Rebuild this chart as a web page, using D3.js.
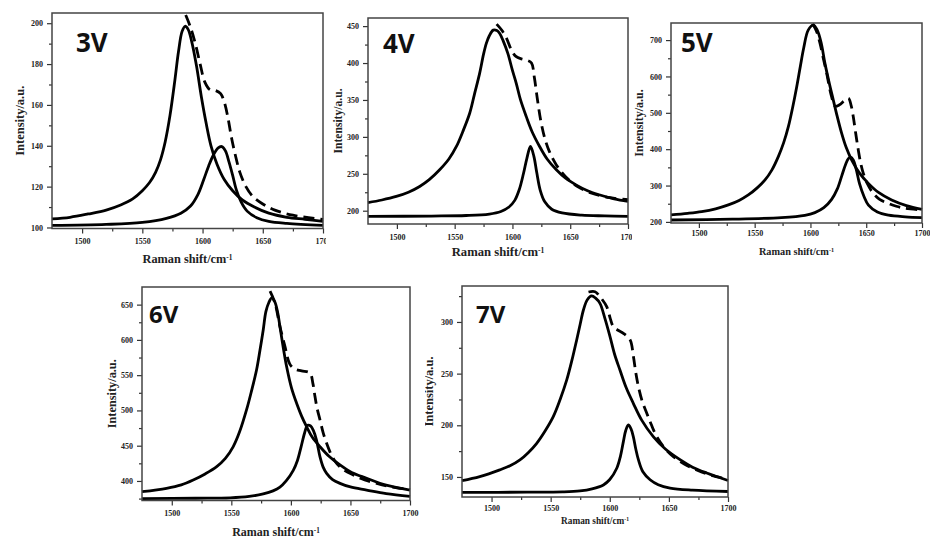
<!DOCTYPE html>
<html>
<head>
<meta charset="utf-8">
<script src="https://cdn.jsdelivr.net/npm/d3@7"></script>
<style>
  body { margin: 0; background: #fff; }
  svg { display: block; }
</style>
</head>
<body>
<div id="wrapper"></div>
<script>
// values: [Raman shift, intensity]
const shiftTicks = [1500, 1550, 1600, 1650, 1700]
const shiftMinor = [1525, 1575, 1625, 1675]
const shiftDomain = [1475, 1700]

// 3V
const main3V = [[1475,104.2],[1490,105],[1505,106.6],[1520,108.5],[1532,111],[1542,114],[1550,118],[1556,122],[1561,127],[1565,133],[1569,142],[1573,155],[1577,172],[1580,186],[1583,196],[1585.5,198.5],[1588,197],[1591,191],[1595,179],[1599,164],[1603,151],[1607,140],[1612,131],[1618,123.5],[1625,118],[1633,113.5],[1643,110],[1655,107],[1670,105],[1685,104],[1700,103]]
const side3V = [[1475,101],[1520,101.5],[1550,102.5],[1570,104.5],[1582,107],[1590,110.5],[1596,116],[1601,123.5],[1605,130],[1609,135.5],[1613,139],[1616,139.6],[1619,137.5],[1622,132],[1625,125.5],[1628,118.5],[1632,112.5],[1637,108],[1645,104.8],[1655,103],[1670,102],[1700,101]]
const sum3V = [[1586,204],[1590,198],[1594,190],[1598,180],[1602,171],[1606,167.5],[1611,167],[1615,165.5],[1618,161.5],[1621,154],[1624,144],[1627,136],[1631,127],[1636,120],[1642,115],[1650,111.5],[1660,108.5],[1675,106],[1700,103.9]]
const yTicks3V = [100, 120, 140, 160, 180, 200]
const yMinor3V = [110, 130, 150, 170, 190]
const yDomain3V = [99.5, 205]

// 4V
const main4V = [[1475,211],[1487,214.5],[1499.5,219.3],[1510,225],[1519.7,232.8],[1528,242],[1537,255.4],[1545,270],[1551.5,287],[1557,307],[1563,332],[1567,357],[1571.6,386],[1575,412],[1577.4,426.6],[1580,437],[1583.4,444.6],[1586.5,444],[1589,440],[1592,430],[1596,413],[1600,390],[1603.3,372.5],[1607,350],[1612,327.4],[1617,307],[1623.5,287],[1630,270],[1638,255.4],[1646,244],[1655,235],[1665,227],[1675,221.6],[1688,216],[1700,212.6]]
const side4V = [[1475,192.3],[1530,192.8],[1560,193.5],[1580,195.5],[1590,199],[1597,205],[1602,214],[1606,229],[1609.5,250],[1612.5,271],[1615.6,287],[1618.5,274],[1621,252],[1624,228],[1628,212],[1634,202],[1643,197],[1660,194],[1680,193],[1700,192.3]]
const sum4V = [[1586.3,452.7],[1591,444],[1595,433],[1599,418],[1603,409],[1608,405.5],[1613,403.5],[1616.5,400],[1619,380],[1621.5,352],[1624.5,322],[1628,298],[1632,280],[1638,262],[1646,246],[1656,233],[1668,224],[1683,218],[1700,214.9]]
const yTicks4V = [200, 250, 300, 350, 400, 450]
const yMinor4V = [225, 275, 325, 375, 425]
const yDomain4V = [182, 461]

// 5V
const main5V = [[1475,219.2],[1490,223.5],[1502.5,228.3],[1515,236],[1526.4,246.7],[1536,259],[1544.3,274.2],[1552,293],[1559.3,315.4],[1565.5,343],[1571.2,379.4],[1576,418],[1580.2,461.8],[1584,514],[1587.7,571.7],[1591,629],[1594,679],[1598,727.5],[1602.6,741],[1606,728],[1609.5,694],[1613,636],[1617,580],[1620.5,535],[1624,490],[1628,443.4],[1632,405],[1637,370],[1644,334],[1651.9,306],[1661,281],[1672.8,260.4],[1686,245],[1700,234.8]]
const side5V = [[1475,205.3],[1530,207.5],[1574,211.8],[1595,218],[1604,225.5],[1612,239],[1619,262],[1624,290],[1628,326],[1631.5,358],[1634,374],[1636,378],[1638.5,370],[1641,345],[1644,305],[1648,270],[1652,246],[1660,227],[1670,218.4],[1685,214],[1700,212]]
const sum5V = [[1602,745],[1605.5,724],[1608.6,690.7],[1611.5,650],[1614.6,608.3],[1617,570],[1619,544.2],[1622,518],[1626,522],[1630,532],[1634,540],[1636.5,520],[1638.4,489.3],[1640.5,445],[1642.9,397.7],[1645,362],[1647.4,333.6],[1651,305],[1656.3,278.6],[1662,262],[1669.8,251],[1677,243],[1684.8,237.3],[1700,232.7]]
const yTicks5V = [200, 300, 400, 500, 600, 700]
const yMinor5V = [250, 350, 450, 550, 650]
const yDomain5V = [197, 747]

// 6V
const main6V = [[1475,384.8],[1495.6,389.6],[1508,394.5],[1518,401.4],[1528,410],[1537.7,420.3],[1545,432],[1551.6,448.7],[1557,470],[1562.8,501],[1567,528],[1571.2,557.7],[1574,585],[1576.8,614.5],[1579,640],[1581.5,653],[1584,659.5],[1586.5,654],[1589,638],[1590.8,619],[1593.5,590],[1596.4,562.3],[1600.5,532],[1604.8,510.2],[1609,492],[1613.2,477],[1618,462],[1624.4,448.7],[1632,435],[1641.2,422.7],[1651,412],[1663.6,403.8],[1680,394],[1700,387]]
const side6V = [[1475,375],[1520,375.5],[1549,376],[1565,378],[1576.8,381.7],[1585,386],[1590.8,391.2],[1596,400],[1602,415],[1605.5,429],[1608.5,448],[1611.5,468],[1614,479],[1616.5,478],[1619,471],[1621.5,458],[1624.4,434.4],[1627,420],[1630,410.8],[1635,402],[1641.2,396.6],[1650,391.5],[1663.6,387.1],[1680,382],[1700,378]]
const sum6V = [[1582.5,669],[1586.6,652.3],[1590.8,619],[1595,590.8],[1599,566],[1603,559],[1609,556],[1616,553],[1618.5,538],[1620.2,520],[1622,503],[1624.4,486.8],[1627,469],[1630,453.5],[1634,437],[1638.4,425],[1645,415],[1652.4,408.5],[1662,401.5],[1672,396.6],[1685,391.5],[1700,388]]
const yTicks6V = [400, 450, 500, 550, 600, 650]
const yMinor6V = [375, 425, 475, 525, 575, 625]
const yDomain6V = [372.3, 675]

// 7V
const main7V = [[1475,146.4],[1490,150.3],[1507,156.8],[1516,161],[1524,166.5],[1531,173.5],[1538.2,182.6],[1545,194],[1552.2,208.4],[1558,225],[1563.6,243.9],[1568,263],[1572,282.6],[1575,298],[1577.7,311.6],[1581,321.5],[1584.7,325.2],[1588,323],[1591.7,318],[1596,303],[1600.2,285.8],[1604,269],[1608.6,253.5],[1614,236],[1619.9,221.3],[1627,205],[1636.8,189],[1647,177],[1659.4,166.7],[1670,159.5],[1682,153.8],[1700,146.6]]
const side7V = [[1475,135],[1530,135.3],[1560,135.6],[1574.8,136.5],[1585,138.5],[1594.6,142.3],[1600,147.5],[1605.9,158.4],[1609,170],[1611.5,184.2],[1613.5,195],[1615.7,200.3],[1617.8,197],[1619.9,189],[1622,177],[1624.2,166.7],[1628,155],[1634.1,147.3],[1641,142.5],[1651,139.2],[1670,137.2],[1700,135.9]]
const sum7V = [[1582,329],[1587.5,329.3],[1592,324],[1597.4,314.8],[1600.5,303],[1603,295.4],[1607,292],[1611.5,289],[1617.2,282.6],[1620,266.5],[1622,251],[1624.2,237.5],[1627.5,223],[1631.3,211.7],[1635,201],[1639.7,189],[1646,178.5],[1653.8,169.7],[1663,162.5],[1673.5,156.8],[1686,151.5],[1700,147.8]]
const yTicks7V = [150, 200, 250, 300]
const yMinor7V = [175, 225, 275, 325]
const yDomain7V = [130.6, 334.8]

const xTitle = "Raman shift/cm"
const yTitle = "Intensity/a.u."

// layout of each sub-picture in the page
const panels = [
  {name: "3V", main: main3V, side: side3V, sum: sum3V, yTicks: yTicks3V, yMinor: yMinor3V, yDomain: yDomain3V,
   clip: [0, 0, 326, 270], left: 52, right: 323, top: 13, bottom: 228.5,
   label: [76, 52, 26], xPad: 5, xTitleY: 263, xTitleSize: 12.3, yTitleX: 24, yTitleSize: 12.5},
  {name: "4V", main: main4V, side: side4V, sum: sum4V, yTicks: yTicks4V, yMinor: yMinor4V, yDomain: yDomain4V,
   clip: [326, 0, 306, 270], left: 368, right: 628, top: 18, bottom: 224,
   label: [383, 53, 26], xPad: 5, xTitleY: 256, xTitleSize: 12.7, yTitleX: 342, yTitleSize: 11.6},
  {name: "5V", main: main5V, side: side5V, sum: sum5V, yTicks: yTicks5V, yMinor: yMinor5V, yDomain: yDomain5V,
   clip: [632, 0, 298, 270], left: 671, right: 922, top: 23, bottom: 223,
   label: [681, 52, 26], xPad: 2, xTitleY: 255, xTitleSize: 10.3, yTitleX: 643, yTitleSize: 12},
  {name: "6V", main: main6V, side: side6V, sum: sum6V, yTicks: yTicks6V, yMinor: yMinor6V, yDomain: yDomain6V,
   clip: [95, 270, 330, 269], left: 142, right: 410, top: 287, bottom: 500.5,
   label: [149, 323, 24], xPad: 5, xTitleY: 536, xTitleSize: 12, yTitleX: 116, yTitleSize: 12.3},
  {name: "7V", main: main7V, side: side7V, sum: sum7V, yTicks: yTicks7V, yMinor: yMinor7V, yDomain: yDomain7V,
   clip: [425, 270, 320, 269], left: 462, right: 728, top: 286, bottom: 497,
   label: [476, 323, 24], xPad: 3, xTitleY: 524, xTitleSize: 9.3, yTitleX: 433, yTitleSize: 12.5},
]

const width = 930
const height = 539
const serif = "'Liberation Serif', 'Times New Roman', serif"

const wrapper = d3.select("#wrapper")
  .append("svg")
  .attr("width", width)
  .attr("height", height)

wrapper.append("rect")
  .attr("width", width)
  .attr("height", height)
  .attr("fill", "#fff")

function drawPanel(p) {
  // each sub-picture is cropped like a pasted image
  const [cx, cy, cw, ch] = p.clip
  const bounds = wrapper.append("svg")
    .attr("x", cx).attr("y", cy)
    .attr("width", cw).attr("height", ch)
    .attr("viewBox", `${cx} ${cy} ${cw} ${ch}`)
    .style("overflow", "hidden")

  const xScale = d3.scaleLinear()
    .domain(shiftDomain)
    .range([p.left, p.right])

  const yScale = d3.scaleLinear()
    .domain(p.yDomain)
    .range([p.bottom, p.top])

  // minor ticks
  bounds.append("g")
    .attr("transform", `translate(0,${p.bottom})`)
    .call(d3.axisBottom(xScale).tickValues(shiftMinor).tickSize(3).tickFormat(""))
    .call(g => g.select(".domain").remove())
  bounds.append("g")
    .attr("transform", `translate(${p.left},0)`)
    .call(d3.axisLeft(yScale).tickValues(p.yMinor).tickSize(3).tickFormat(""))
    .call(g => g.select(".domain").remove())

  const xAxis = bounds.append("g")
    .attr("transform", `translate(0,${p.bottom})`)
    .call(d3.axisBottom(xScale).tickValues(shiftTicks).tickSize(5).tickPadding(p.xPad).tickFormat(d3.format("d")))
  xAxis.select(".domain").remove()

  const yAxis = bounds.append("g")
    .attr("transform", `translate(${p.left},0)`)
    .call(d3.axisLeft(yScale).tickValues(p.yTicks).tickSize(5).tickPadding(4).tickFormat(d3.format("d")))
  yAxis.select(".domain").remove()

  bounds.selectAll(".tick line").attr("stroke", "#333").attr("stroke-width", 1.2)
  bounds.selectAll(".tick text")
    .attr("fill", "#222")
    .style("font-family", serif)
    .style("font-weight", "bold")
    .style("font-size", "8px")

  const lineGenerator = d3.line()
    .x(d => xScale(d[0]))
    .y(d => yScale(d[1]))
    .curve(d3.curveCatmullRom.alpha(0.5))

  const curves = bounds.append("g")
    .attr("fill", "none")
    .attr("stroke", "#000")
    .attr("stroke-width", 2.8)
    .attr("stroke-linejoin", "round")

  curves.append("path").attr("d", lineGenerator(p.side))
  curves.append("path").attr("d", lineGenerator(p.main))
  curves.append("path")
    .attr("d", lineGenerator(p.sum))
    .attr("stroke-dasharray", "11,6")

  // frame
  bounds.append("rect")
    .attr("x", p.left)
    .attr("y", p.top)
    .attr("width", p.right - p.left)
    .attr("height", p.bottom - p.top)
    .attr("fill", "none")
    .attr("stroke", "#444")
    .attr("stroke-width", 1.5)

  bounds.append("text")
    .attr("x", p.label[0])
    .attr("y", p.label[1])
    .style("font-family", "'Open Sans', 'Noto Sans', sans-serif")
    .style("font-weight", "bold")
    .style("font-size", p.label[2] + "px")
    .attr("fill", "#111")
    .text(p.name)

  const xLabel = bounds.append("text")
    .attr("x", (p.left + p.right) / 2)
    .attr("y", p.xTitleY)
    .attr("text-anchor", "middle")
    .attr("fill", "#222")
    .style("font-family", serif)
    .style("font-weight", "bold")
    .style("font-size", p.xTitleSize + "px")
  xLabel.append("tspan").text(xTitle)
  xLabel.append("tspan")
    .attr("dy", "-0.45em")
    .style("font-size", "0.6em")
    .text("-1")

  bounds.append("text")
    .attr("transform", `translate(${p.yTitleX},${(p.top + p.bottom) / 2}) rotate(-90)`)
    .attr("text-anchor", "middle")
    .attr("fill", "#222")
    .style("font-family", serif)
    .style("font-weight", "bold")
    .style("font-size", p.yTitleSize + "px")
    .text(yTitle)
}

panels.forEach(drawPanel)
</script>
</body>
</html>
